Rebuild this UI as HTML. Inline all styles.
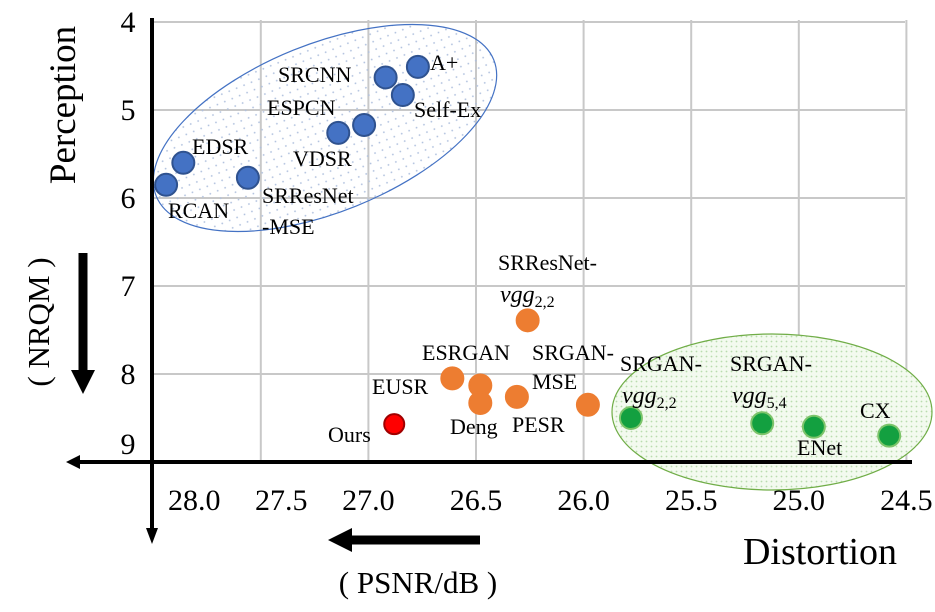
<!DOCTYPE html>
<html><head><meta charset="utf-8"><style>
html,body{margin:0;padding:0;background:#fff;}
svg{display:block;font-family:"Liberation Serif",serif;}
</style></head><body>
<svg id="chart" width="935" height="612" viewBox="0 0 935 612">
<defs>
<pattern id="dotsB" width="8" height="8" patternUnits="userSpaceOnUse"><circle cx="2" cy="2" r="0.9" fill="#aebfdd"/></pattern>
<pattern id="dotsG" width="5" height="5" patternUnits="userSpaceOnUse"><rect width="5" height="5" fill="#f3faef"/><circle cx="1.5" cy="1.5" r="0.9" fill="#b9dcae"/></pattern>
<pattern id="dotsP" width="5" height="5" patternUnits="userSpaceOnUse"><circle cx="2" cy="2" r="0.7" fill="#9fb6e0"/></pattern>
</defs>
<g id="grid"></g>
<ellipse cx="325" cy="128" rx="182" ry="84" transform="rotate(-22 325 128)" fill="url(#dotsB)" stroke="#4472c4" stroke-width="1.2"/>
<ellipse cx="772" cy="412" rx="160" ry="78" fill="url(#dotsG)" stroke="#70ad47" stroke-width="1.2"/>
<line x1="152" y1="18" x2="152" y2="530" stroke="#000" stroke-width="4"/>
<polygon points="146,528 158,528 152,544" fill="#000"/>
<line x1="78" y1="462" x2="912" y2="462" stroke="#000" stroke-width="4"/>
<polygon points="66,462 80,455 80,469" fill="#000"/>
<g id="ticks" font-size="30"></g>
<g id="marks"></g>
<g id="labels" font-size="22"></g>
<text transform="translate(75,105) rotate(-90)" font-size="37" text-anchor="middle">Perception</text>
<text transform="translate(49,322) rotate(-90)" font-size="31" text-anchor="middle">( NRQM )</text>
<line x1="83" y1="253" x2="83" y2="372" stroke="#000" stroke-width="9"/>
<polygon points="71,370 95,370 83,394" fill="#000"/>
<text x="820" y="564" font-size="38" text-anchor="middle">Distortion</text>
<text x="418" y="593" font-size="31" text-anchor="middle">( PSNR/dB )</text>
<line x1="350" y1="540" x2="480" y2="540" stroke="#000" stroke-width="9"/>
<polygon points="328,540 352,528 352,552" fill="#000"/>
</svg>
<script>
const xTicks=[28.0,27.5,27.0,26.5,26.0,25.5,25.0,24.5];
const yTicks=[4,5,6,7,8,9];
const names=["A+","SRCNN","Self-Ex","ESPCN","VDSR","EDSR","RCAN","SRResNet-MSE","SRResNet-vgg22","EUSR","ESRGAN","Deng","PESR","SRGAN-MSE","Ours","SRGAN-vgg22","SRGAN-vgg54","ENet","CX"];
const psnr=[26.77,26.92,26.84,27.14,27.02,27.86,27.94,27.56,26.26,26.61,26.48,26.48,26.31,25.98,26.88,25.78,25.17,24.93,24.58];
const nrqm=[4.51,4.63,4.83,5.26,5.17,5.60,5.85,5.77,7.39,8.05,8.13,8.33,8.26,8.35,8.57,8.50,8.56,8.60,8.70];
const groups=["b","b","b","b","b","b","b","b","o","o","o","o","o","o","r","g","g","g","g"];
const NS="http://www.w3.org/2000/svg";
function sx(v){return 476+(26.5-v)*215.2;}
function sy(v){return 22+(v-4)*88;}
function mk(t,a,p){const e=document.createElementNS(NS,t);for(const k in a)e.setAttribute(k,a[k]);p.appendChild(e);return e;}
const grid=document.getElementById('grid'),ticks=document.getElementById('ticks'),marks=document.getElementById('marks'),labels=document.getElementById('labels');
xTicks.forEach(v=>{if(v<28){const l=mk('line',{x1:sx(v),x2:sx(v),y1:20,y2:462,stroke:'#c8c8c8','stroke-width':2},grid);

}
const t=mk('text',{x:sx(v)+Math.max(0,(v-27)*41),y:510,'text-anchor':'middle'},ticks);t.textContent=v.toFixed(1);

});
yTicks.forEach(v=>{if(v<9){const l=mk('line',{x1:152,x2:905,y1:sy(v),y2:sy(v),stroke:'#c8c8c8','stroke-width':2},grid);

}
const t=mk('text',{x:128,y:v===9?sy(v)-8:sy(v)+10,'text-anchor':'middle'},ticks);t.textContent=v;

});
const fills={b:['#4472c4','#2f528f'],o:['#ed7d31','#ed7d31'],r:['#ff0000','#a00000'],g:['#13a040','#7cc46a']};
names.forEach((n,i)=>{const f=fills[groups[i]];
const c=mk('circle',{cx:sx(psnr[i]),cy:sy(nrqm[i]),r:groups[i]==='r'?10:11,fill:f[0],stroke:f[1],'stroke-width':2},marks);

});
const lbl=[["A+",430,70],["SRCNN",278,82],["Self-Ex",414,117],["ESPCN",267,115],["VDSR",293,166],["EDSR",192,154],["RCAN",168,218],["SRResNet",262,203],["-MSE",262,234],["SRResNet-",498,270],["ESRGAN",422,360],["SRGAN-",532,360],["MSE",532,389],["EUSR",372,394],["Deng",450,434],["PESR",512,432],["Ours",328,442],["SRGAN-",620,371],["SRGAN-",730,371],["ENet",797,455],["CX",860,418]];
lbl.forEach(a=>{const t=mk('text',{x:a[1],y:a[2]},labels);t.textContent=a[0];

});
[["vgg","2,2",500,302],["vgg","2,2",622,403],["vgg","5,4",732,403]].forEach(a=>{const t=mk('text',{x:a[2],y:a[3],'font-style':'italic','font-size':24},labels);


t.textContent=a[0];const s=mk('tspan',{'font-size':16,'font-style':'normal',dy:5},t);s.textContent=a[1];});
</script>
</body></html>
